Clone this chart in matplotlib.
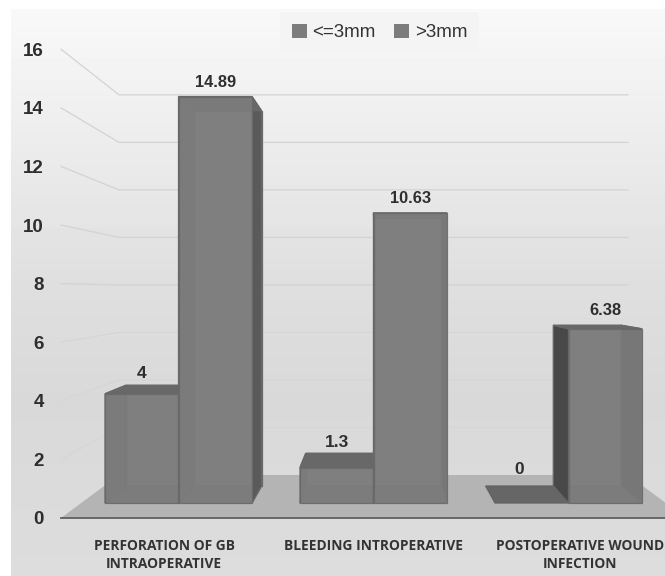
import numpy as np
import matplotlib
matplotlib.use("Agg")
import matplotlib.pyplot as plt
from matplotlib.patches import Polygon, Patch

categories = ["PERFORATION OF GB\nINTRAOPERATIVE", "BLEEDING INTROPERATIVE", "POSTOPERATIVE WOUND\nINFECTION"]
series_names = ["<=3mm", ">3mm"]
small_stones = [4, 1.3, 0]
large_stones = [14.89, 10.63, 6.38]
y_ticks = [0, 2, 4, 6, 8, 10, 12, 14, 16]

W, H = 665, 576
# left edge of each bar on the front plane, pixels
group_left = [105, 300, 495]
bar_w = 73.5

FRONT_BASE, FRONT_SCALE = 503, 27.3
BACK_BASE, BACK_SCALE = 486, 25.2
WALL_BASE, WALL_SCALE = 475, 23.76
EDGE_BASE, EDGE_SCALE = 518, 29.3
WALL_L, WALL_R, EDGE_L = 119, 628, 61


def front(x, v):
    return x, FRONT_BASE - FRONT_SCALE * v


def back(x, v):
    return 29.2 + 0.922 * x, BACK_BASE - BACK_SCALE * v


def face(ax, pts, color, alpha=1.0, z=3, ec="#686868"):
    ax.add_patch(Polygon(pts, closed=True, facecolor=color, edgecolor=ec, linewidth=0.9, alpha=alpha, zorder=z))


def draw_bar(ax, x0, x1, v, z, left_col="#6c6c6c", right_col="#5a5a5a"):
    if v == 0:
        face(ax, [front(x0, 0), front(x1, 0), back(x1, 0), back(x0, 0)], "#666666", z=z, ec="#626262")
        return
    # back, floor, sides, top and then a see-through front
    face(ax, [back(x0, 0), back(x1, 0), back(x1, v), back(x0, v)], "#7c7c7c", z=z)
    face(ax, [front(x0, 0), front(x1, 0), back(x1, 0), back(x0, 0)], "#6e6e6e", z=z + 0.1)
    face(ax, [front(x0, 0), front(x0, v), back(x0, v), back(x0, 0)], left_col, z=z + 0.2)
    face(ax, [front(x1, 0), front(x1, v), back(x1, v), back(x1, 0)], right_col, z=z + 0.2)
    face(ax, [front(x0, v), front(x1, v), back(x1, v), back(x0, v)], "#686868", z=z + 0.3)
    face(ax, [front(x0, 0), front(x1, 0), front(x1, v), front(x0, v)], "#808080", alpha=0.78, z=z + 0.4)


fig = plt.figure(figsize=(W / 100, H / 100), dpi=100)
ax = fig.add_axes([0, 0, 1, 1])
ax.set_xlim(0, W)
ax.set_ylim(H, 0)
ax.axis("off")

# grey panel with vertical fade
rows = np.arange(9, H)
grad = np.interp(rows, [9, 280, 400, H], [0.975, 0.875, 0.85, 0.865]).reshape(-1, 1)
ax.imshow(grad, cmap="gray", vmin=0, vmax=1, extent=(11, W, H, 9), aspect="auto", zorder=0)
ax.set_xlim(0, W)
ax.set_ylim(H, 0)

# walls
for t in y_ticks[1:]:
    yb = WALL_BASE - WALL_SCALE * t
    ye = EDGE_BASE - EDGE_SCALE * t
    ax.plot([EDGE_L, WALL_L, WALL_R], [ye, yb, yb], color="#d3d3d3" if t > 6 else "#d6d6d6", lw=0.9, zorder=1)

# floor
right_front = WALL_R + WALL_L - EDGE_L
floor = [(EDGE_L, EDGE_BASE), (WALL_L, WALL_BASE), (WALL_R, WALL_BASE), (right_front, EDGE_BASE)]
ax.add_patch(Polygon(floor, closed=True, facecolor="#b4b4b4", edgecolor="none", zorder=1.5))
ax.plot([EDGE_L, W], [EDGE_BASE, EDGE_BASE], color="#5f5f5f", lw=1.3, zorder=2)

for t in y_ticks:
    ax.text(44, EDGE_BASE - EDGE_SCALE * t + 2, str(t), ha="right", va="center", fontsize=13.5,
            fontweight="bold", family="Liberation Sans", color="#2e2e2e")

label_shift = [0, 0, -13]
small_gap = [12, 11, 16]
cat_x = [164, 374, 580]
for i, x in enumerate(group_left):
    draw_bar(ax, x, x + bar_w, small_stones[i], 3 + i)
    left_col = "#484848" if i == 2 else "#6c6c6c"
    draw_bar(ax, x + bar_w, x + 2 * bar_w, large_stones[i], 3.5 + i, left_col=left_col)

    v = small_stones[i]
    top = min(front(x, v)[1], back(x, v)[1])
    ax.text(x + bar_w * 0.5 + label_shift[i], top - small_gap[i], f"{v:g}", ha="center", va="center", fontsize=12.5,
            fontweight="bold", family="Liberation Sans", color="#2e2e2e", zorder=9)
    v = large_stones[i]
    top = min(front(x, v)[1], back(x, v)[1])
    ax.text(x + bar_w * 1.5, top - 14.5, f"{v:g}", ha="center", va="center", fontsize=11.8,
            fontweight="bold", family="Liberation Sans", color="#2e2e2e", zorder=9)

    ax.text(cat_x[i], 538.5, categories[i], ha="center", va="top", fontsize=9.9,
            fontweight="bold", family="Open Sans", color="#333333", linespacing=1.4, zorder=9)

handles = [Patch(facecolor="#7c7c7c", edgecolor="none", label=n) for n in series_names]
leg = ax.legend(handles=handles, loc="center", bbox_to_anchor=(379.5 / W, 1 - 32.5 / H), ncol=2, frameon=True,
                prop={"family": "Liberation Sans", "size": 13.5}, handlelength=0.8, handleheight=0.8,
                handletextpad=0.3, columnspacing=1.0, borderpad=0.6, facecolor="#f4f4f4", edgecolor="none",
                framealpha=1, fancybox=False, labelcolor="#333333")
leg.set_zorder(10)

fig.savefig("out.png", dpi=100)
